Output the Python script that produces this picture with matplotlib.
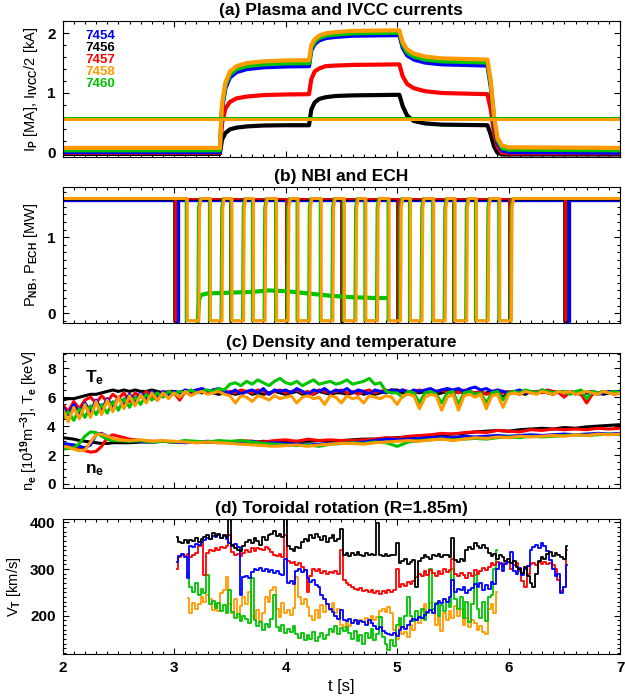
import numpy as np
import matplotlib
matplotlib.use("Agg")
import matplotlib.pyplot as plt
from matplotlib.ticker import MultipleLocator

plt.rcParams['font.family'] = ['Liberation Sans', 'DejaVu Sans']
plt.rcParams['font.weight'] = 'bold'
plt.rcParams['mathtext.fontset'] = 'custom'
plt.rcParams['mathtext.rm'] = 'Liberation Sans:bold'
plt.rcParams['mathtext.it'] = 'Liberation Sans:bold'
plt.rcParams['mathtext.bf'] = 'Liberation Sans:bold'

shots = ['7454', '7456', '7457', '7458', '7460']
colors = {'7454': '#0000ff', '7456': '#000000', '7457': '#ff0000',
          '7458': '#ff9a00', '7460': '#00c400'}

# ---- (a) plasma current breakpoints [MA]
ip_t = [2.0, 3.41, 3.43, 3.46, 3.5, 3.56, 3.65, 3.8, 4.0, 4.21, 4.23, 4.26, 4.3, 4.36,
        4.45, 4.6, 5.02, 5.05, 5.09, 5.15, 5.25, 5.4, 5.81, 5.84, 5.87, 5.9, 5.94, 6.0, 7.0]
ip = {
    '7458': [0.08, 0.08, 0.82, 1.18, 1.36, 1.45, 1.50, 1.53, 1.545, 1.55, 1.80, 1.90, 1.96, 2.0,
             2.02, 2.04, 2.05, 1.85, 1.73, 1.66, 1.61, 1.58, 1.56, 1.2, 0.6, 0.25, 0.12, 0.09, 0.08],
    '7460': [0.04, 0.04, 0.77, 1.13, 1.31, 1.40, 1.45, 1.48, 1.495, 1.50, 1.75, 1.86, 1.92, 1.96,
             1.98, 2.0, 2.01, 1.81, 1.68, 1.61, 1.56, 1.53, 1.51, 1.15, 0.56, 0.21, 0.08, 0.05, 0.04],
    '7454': [0.01, 0.01, 0.73, 1.08, 1.26, 1.35, 1.40, 1.43, 1.445, 1.45, 1.71, 1.82, 1.88, 1.92,
             1.94, 1.96, 1.97, 1.76, 1.63, 1.56, 1.51, 1.48, 1.46, 1.10, 0.52, 0.17, 0.04, 0.01, 0.0],
    '7457': [0.0, 0.0, 0.49, 0.74, 0.85, 0.91, 0.94, 0.965, 0.975, 0.98, 1.23, 1.36, 1.41, 1.45,
             1.46, 1.47, 1.48, 1.28, 1.15, 1.08, 1.03, 1.0, 0.98, 0.72, 0.32, 0.1, 0.0, -0.01, -0.01],
    '7456': [-0.02, -0.02, 0.22, 0.33, 0.39, 0.42, 0.44, 0.455, 0.46, 0.46, 0.72, 0.84, 0.9, 0.93,
             0.95, 0.96, 0.97, 0.78, 0.62, 0.53, 0.49, 0.47, 0.46, 0.3, 0.1, 0.0, -0.03, -0.03, -0.03],
}
ivcc_half = {'7456': 0.56, '7457': 0.56, '7454': 0.578, '7460': 0.574, '7458': 0.56}

# ---- (b) NBI / ECH
nbi_off_start = [3.118, 3.326, 3.519, 3.712, 3.919, 4.112, 4.32, 4.527, 4.72, 4.928,
                 5.12, 5.328, 5.52, 5.712, 5.921]
nbi_off_end = [3.222, 3.43, 3.623, 3.816, 4.023, 4.216, 4.424, 4.631, 4.824, 5.031,
               5.224, 5.431, 5.624, 5.817, 6.025]
nbi_blip = [3.0, 3.5, 4.0, 4.5, 5.0, 5.5, 6.0, 6.5]
blue_dips = [3.015, 6.505]
blue_dip_w = [0.02, 0.035]
nbi_on = 1.51
nbi_low = -0.1
ech_t = [3.212, 3.225, 3.24, 3.3, 3.5, 3.7, 3.85, 4.0, 4.2, 4.4, 4.6, 4.8, 4.905]
ech_v = [-0.1, 0.18, 0.24, 0.26, 0.27, 0.28, 0.30, 0.29, 0.26, 0.23, 0.21, 0.20, 0.20]

# ---- (c) Te [keV], dt = 0.05 s
te_t = np.linspace(2.0, 7.0, 101)
te = {
    '7456': [5.8, 5.9, 5.9, 6.0, 6.1, 6.2, 6.2, 6.3, 6.4, 6.5,
             6.4, 6.5, 6.4, 6.5, 6.4, 6.4, 6.5, 6.4, 6.3, 6.4,
             6.4, 6.3, 6.4, 6.3, 6.4, 6.3, 6.4, 6.3, 6.2, 6.3,
             6.3, 6.2, 6.3, 6.4, 6.2, 6.3, 6.2, 6.3, 6.4, 6.3,
             6.2, 6.3, 6.4, 6.2, 6.3, 6.2, 6.4, 6.3, 6.2, 6.3,
             6.3, 6.2, 6.3, 6.4, 6.2, 6.3, 6.2, 6.3, 6.4, 6.5,
             6.5, 6.3, 6.2, 6.4, 6.3, 6.4, 6.3, 6.2, 6.3, 6.4,
             6.3, 6.4, 6.3, 6.2, 6.3, 6.2, 6.3, 6.4, 6.3, 6.0,
             6.3, 6.4, 6.3, 6.2, 6.4, 6.3, 6.4, 6.3, 6.2, 6.4,
             6.3, 6.4, 6.3, 6.2, 6.3, 6.4, 6.3, 6.2, 6.3, 6.4, 6.3],
    '7457': [5.5, 5.0, 5.7, 5.2, 5.8, 6.0, 5.6, 6.1, 5.7, 6.2,
             5.9, 6.3, 5.7, 6.3, 6.0, 6.4, 6.1, 5.8, 6.3, 6.4,
             6.3, 5.8, 6.4, 6.3, 6.5, 6.4, 6.3, 6.5, 6.4, 6.3,
             6.4, 6.3, 6.5, 6.4, 6.3, 6.5, 6.4, 6.2, 6.4, 6.5,
             6.3, 6.4, 6.5, 6.3, 6.4, 6.2, 6.5, 6.4, 6.3, 6.4,
             6.5, 6.3, 6.4, 6.2, 6.4, 6.5, 6.3, 6.4, 6.5, 6.3,
             6.4, 6.5, 6.4, 6.3, 6.5, 6.4, 6.3, 6.4, 6.5, 6.3,
             6.4, 6.3, 6.5, 6.4, 6.3, 6.4, 6.2, 6.3, 6.4, 6.3,
             6.4, 6.3, 6.2, 6.4, 6.3, 6.4, 6.3, 6.5, 6.4, 6.3,
             6.0, 6.4, 6.3, 6.2, 5.6, 6.2, 6.3, 6.4, 6.3, 6.2, 6.3],
    '7454': [5.3, 4.8, 5.5, 4.9, 5.6, 5.0, 5.8, 5.1, 5.9, 5.3,
             6.0, 5.5, 6.2, 5.7, 6.3, 5.9, 6.4, 6.0, 6.4, 6.2,
             6.4, 6.3, 6.5, 6.4, 6.5, 6.6, 6.4, 6.5, 6.6, 6.4,
             6.3, 6.5, 6.2, 6.4, 6.5, 6.3, 6.6, 6.2, 6.5, 6.4,
             6.5, 6.3, 6.6, 6.4, 6.2, 6.5, 6.4, 6.6, 6.3, 6.5,
             6.4, 6.6, 6.3, 6.5, 6.4, 6.2, 6.5, 6.4, 6.3, 6.5,
             6.4, 6.5, 6.3, 6.5, 6.4, 6.5, 6.6, 6.4, 6.5, 6.6,
             6.5, 6.6, 6.4, 6.6, 6.7, 6.5, 6.6, 6.4, 6.5, 6.4,
             6.3, 6.4, 6.5, 6.3, 6.4, 6.3, 6.5, 6.4, 6.3, 6.4,
             6.3, 6.4, 6.2, 6.4, 6.3, 6.4, 6.2, 6.3, 6.4, 6.3, 6.4],
    '7460': [4.5, 5.0, 4.4, 5.2, 4.6, 5.4, 4.8, 5.5, 4.9, 5.7,
             5.1, 5.9, 5.3, 6.0, 5.5, 6.2, 5.8, 6.3, 6.0, 6.4,
             6.2, 6.4, 6.3, 6.5, 6.3, 6.4, 6.5, 6.4, 6.6, 6.5,
             6.9, 7.0, 6.8, 7.1, 6.9, 7.2, 7.0, 6.8, 7.1, 7.3,
             7.0, 6.9, 7.1, 6.8, 7.0, 7.2, 6.9, 7.0, 7.1, 6.9,
             7.0, 7.2, 6.9, 7.0, 7.1, 7.3, 6.9, 7.0, 6.4, 6.3,
             6.3, 6.0, 6.4, 6.3, 5.6, 6.3, 6.4, 6.2, 5.6, 6.3,
             6.4, 5.5, 6.3, 6.4, 6.2, 6.3, 5.6, 6.3, 6.4, 5.8,
             6.3, 6.4, 6.3, 6.5, 6.4, 6.3, 6.5, 6.4, 6.3, 6.4,
             6.4, 6.2, 6.4, 6.5, 5.9, 6.4, 6.3, 6.4, 6.3, 6.4, 6.3],
    '7458': [5.2, 4.3, 5.3, 4.5, 5.5, 4.6, 5.7, 4.8, 5.8, 5.0,
             6.0, 5.2, 6.1, 5.4, 6.2, 5.6, 6.3, 5.8, 6.3, 5.9,
             6.3, 6.0, 6.4, 6.1, 6.3, 6.4, 6.2, 6.3, 6.4, 6.2,
             6.1, 5.6, 6.1, 6.0, 5.7, 6.1, 6.0, 5.8, 6.1, 5.9,
             6.0, 6.1, 5.6, 6.0, 6.1, 5.9, 6.0, 5.5, 6.1, 6.0,
             5.6, 6.1, 5.9, 6.0, 5.6, 6.1, 6.0, 5.9, 6.1, 6.0,
             5.5, 6.1, 6.2, 6.1, 5.2, 6.0, 6.2, 6.1, 5.1, 6.0,
             6.2, 5.1, 6.1, 6.2, 6.0, 6.2, 5.2, 6.1, 6.2, 5.3,
             6.2, 6.3, 6.2, 6.4, 6.3, 6.2, 6.4, 6.3, 6.2, 6.4,
             6.3, 6.4, 6.2, 6.3, 6.4, 6.3, 6.2, 6.4, 6.3, 6.2, 6.3],
}

# ---- (c) ne [1e19 m^-3]
ne_t = np.r_[np.linspace(2.0, 2.5, 11), np.linspace(2.6, 7.0, 45)]
ne = {
    '7456': [3.2, 3.15, 3.1, 3.0, 2.95, 2.9, 2.85, 2.8, 2.8, 2.85, 2.85,
             2.85, 2.9, 2.9, 2.95, 2.9, 2.95, 2.9, 2.9, 2.85, 2.9,
             2.9, 2.85, 2.95, 2.9, 2.9, 2.95, 2.95, 3.0, 2.95, 3.0,
             3.05, 3.1, 3.1, 3.15, 3.2, 3.25, 3.3, 3.35, 3.4, 3.45,
             3.5, 3.6, 3.65, 3.7, 3.65, 3.75, 3.8, 3.85, 3.8, 3.9,
             3.85, 3.95, 4.0, 4.05, 4.1],
    '7457': [2.7, 2.65, 2.6, 2.5, 2.3, 2.2, 2.25, 2.6, 3.2, 3.4, 3.3,
             3.1, 3.0, 2.95, 2.95, 2.9, 2.95, 2.85, 2.9, 2.95, 2.9,
             3.0, 2.95, 2.9, 3.0, 3.05, 2.95, 3.1, 3.0, 3.05, 3.0,
             3.0, 3.05, 3.1, 3.2, 3.15, 3.3, 3.35, 3.4, 3.5, 3.45,
             3.55, 3.6, 3.55, 3.7, 3.65, 3.6, 3.75, 3.7, 3.8, 3.75,
             3.8, 3.75, 3.85, 3.8, 3.85],
    '7454': [2.8, 2.75, 2.7, 2.6, 2.5, 2.7, 3.4, 3.5, 3.3, 3.1, 3.0,
             3.0, 2.95, 2.9, 2.95, 2.9, 2.85, 2.9, 2.95, 2.9, 2.85,
             2.9, 2.95, 2.8, 2.85, 2.8, 2.75, 2.7, 2.75, 2.8, 2.8,
             2.85, 2.9, 3.0, 3.1, 3.05, 3.1, 3.15, 3.2, 3.25, 3.2,
             3.3, 3.25, 3.3, 3.35, 3.3, 3.35, 3.4, 3.35, 3.4, 3.45,
             3.4, 3.45, 3.5, 3.45, 3.5],
    '7460': [2.4, 2.45, 2.5, 2.8, 3.3, 3.6, 3.55, 3.3, 3.1, 3.0, 3.0,
             2.95, 3.0, 2.9, 2.95, 2.9, 3.0, 2.95, 2.9, 3.0, 2.95,
             3.0, 2.9, 2.8, 2.75, 2.7, 2.65, 2.7, 2.6, 2.75, 2.8,
             2.85, 2.8, 2.9, 2.85, 2.6, 2.9, 3.0, 3.05, 3.1, 3.05,
             3.1, 3.15, 3.1, 3.2, 3.25, 3.2, 3.3, 3.25, 3.3, 3.35,
             3.4, 3.35, 3.4, 3.45, 3.4],
    '7458': [2.6, 2.55, 2.4, 2.3, 2.35, 2.9, 3.4, 3.45, 3.3, 3.15, 3.05,
             3.0, 3.05, 2.95, 3.0, 2.95, 2.9, 2.85, 2.9, 2.85, 2.8,
             2.75, 2.7, 2.65, 2.6, 2.65, 2.7, 2.6, 2.7, 2.75, 2.8,
             2.8, 2.75, 2.85, 2.9, 2.95, 3.0, 2.95, 3.05, 3.1, 3.0,
             3.1, 3.2, 3.15, 3.25, 3.2, 3.3, 3.25, 3.3, 3.35, 3.3,
             3.4, 3.35, 3.45, 3.4, 3.45],
}

# ---- (d) toroidal rotation [km/s], dt = 0.025 s
vt_t_long = np.linspace(3.025, 6.525, 141)
vt_t_short = np.linspace(3.125, 5.9, 112)
vt = {
    '7456': [368, 358, 355, 362,
             356, 363, 360, 366, 358, 364,
             368, 372, 365, 378, 370, 374, 366, 372, 369,
             420,
             352, 345, 340, 338, 350,
             358, 362, 355, 366, 360, 352, 368, 362, 372,
             375, 382, 370, 376, 368,
             420,
             350, 342, 338, 348, 345,
             358, 365, 360, 372, 366, 375, 368,
             362, 370, 358, 366, 372, 360, 364,
             385,
             330, 335, 328, 334, 330,
             336, 330, 327, 334, 329, 333, 330,
             398,
             330, 327, 333, 328, 331, 329,
             356,
             312, 318, 322, 310, 316, 320,
             262,
             318, 324, 330, 326, 322, 330, 327, 333, 326, 329, 331, 325,
             366,
             320, 316, 322, 318,
             340, 348, 342, 355, 350, 345, 352, 346,
             335, 328, 333, 322, 330, 326, 318,
             322, 312, 318, 305,
             300, 292, 304, 285, 270, 262, 290,
             318, 326, 322, 332, 336, 328, 334, 330, 325, 322,
             350],
    '7457': [300,
             326, 330, 328, 333, 326, 331, 334,
             350, 358,
             288,
             334, 340, 338, 344, 341, 348, 345, 350,
             372,
             336, 330, 333, 328, 335,
             340, 336, 344, 338, 346, 342, 340, 347, 343,
             336, 330, 327, 333, 325,
             372,
             318, 312, 316, 309, 312,
             304, 298, 250,
             285, 300, 296, 299,
             292, 296, 289, 294, 291, 295, 290,
             340,
             276, 270, 266, 262, 258,
             255, 260, 252, 256, 250, 254, 248,
             252, 246, 253, 249, 255, 250, 254,
             300,
             262, 268, 264, 272, 268, 275,
             282, 290, 286, 295, 288, 298, 292, 286, 296, 290, 299, 293, 297,
             322,
             290, 284, 292, 288,
             280, 292, 286, 298, 290, 295, 302, 298,
             305, 312, 308, 314, 310, 306, 312,
             315, 300, 308, 312,
             296, 275, 262, 290, 310, 312, 308,
             314, 310, 316, 311, 313, 309, 300, 276, 252, 262,
             340],
    '7454': [316,
             328, 332, 326,
             280,
             350, 348, 354, 352,
             358,
             362, 366, 364, 370, 368, 372, 366, 370,
             364, 356, 350, 354, 348,
             244,
             282, 286, 280,
             294, 300, 298, 303, 296, 301, 294, 298, 292, 296, 290,
             287,
             322,
             270, 274, 268,
             296, 300, 294, 298,
             280, 272, 276, 266, 262,
             244, 236, 225, 215, 208,
             200, 194, 212, 190,
             188, 192, 185, 190, 183, 188, 186, 181, 190, 184,
             178, 172, 175, 168, 164, 160,
             158, 162, 156,
             170, 176, 172, 180,
             188, 194, 190, 198, 196,
             202, 208, 212, 206,
             225, 232, 228, 236, 230, 240,
             276,
             250, 258, 254, 262, 248, 256,
             260, 268, 262, 270, 256, 266, 258, 272, 268,
             300, 312, 296, 310, 316,
             336,
             296, 290, 302, 288, 300, 306,
             340, 348, 352, 345, 355, 350, 338,
             320, 300, 285, 290,
             248, 262,
             308],
    '7460': [287,
             262, 250, 270, 244, 258, 248,
             287,
             225, 232, 216, 228, 210, 222, 205,
             255,
             208, 196, 204, 188, 200, 192, 184,
             280,
             190, 178, 186, 170, 182, 175, 194,
             244,
             176, 168, 180, 162, 172, 165, 178,
             160, 152, 164, 148, 158, 150, 166, 146, 155, 162, 150, 158,
             172, 165, 178, 160, 174, 168, 176,
             162, 150, 168, 145, 158, 140, 164, 152, 172, 148, 160, 198, 155,
             140, 126, 148, 135,
             180, 195, 175, 200,
             241,
             200, 188, 210, 195, 214, 190, 205,
             301,
             215, 228, 200, 222, 210, 230, 218,
             301,
             236, 215, 240, 195, 230, 186, 225,
             287,
             215, 195, 230, 188, 240, 245,
             300,
             340],
    '7458': [237,
             205, 228, 215, 226,
             240, 230, 244, 235,
             212, 225, 210,
             248, 255,
             283,
             225, 205, 236, 198, 220,
             240, 225, 250,
             200, 192, 212, 188, 205,
             240, 230, 255,
             262,
             215, 198, 228, 205,
             212, 202, 216,
             283,
             240, 225, 236, 218,
             200, 190, 212, 196,
             222, 208, 226, 212, 228, 205, 215,
             180, 175, 186, 178, 185,
             188, 184, 190, 186,
             195, 185, 200, 190, 198,
             210, 215, 208, 218, 205,
             170, 150, 180,
             160, 165, 155,
             180, 170, 192, 185,
             210, 225, 205, 228, 215,
             180, 200, 168, 205, 190,
             210, 195, 220, 200, 215,
             180, 195, 175, 190,
             185, 170, 178, 165, 160,
             215, 225, 205,
             251],
}


def modulated(off_start, off_end, shift):
    t = [2.0]
    v = [nbi_on]
    for a, b in zip(off_start, off_end):
        t += [a + shift, a + shift, b + shift, b + shift + 0.006, b + shift + 0.02]
        v += [nbi_on, nbi_low, nbi_low, nbi_on - 0.12, nbi_on]
    t.append(7.0)
    v.append(nbi_on)
    return t, v


def blips(times, widths, level):
    t = [2.0]
    v = [level]
    for a, w in zip(times, widths):
        t += [a, a, a + w, a + w]
        v += [level, nbi_low, nbi_low, level]
    t.append(7.0)
    v.append(level)
    return t, v


def style_axis(ax, ymin, ymax, ymaj, ymin_step, show_x=False):
    ax.set_xlim(2, 7)
    ax.set_ylim(ymin, ymax)
    ax.xaxis.set_major_locator(MultipleLocator(1))
    ax.xaxis.set_minor_locator(MultipleLocator(0.1))
    ax.yaxis.set_major_locator(MultipleLocator(ymaj))
    ax.yaxis.set_minor_locator(MultipleLocator(ymin_step))
    ax.tick_params(which='both', direction='in', top=True, right=True, width=0.8,
                   labelsize=11, pad=5)
    ax.tick_params(which='major', length=4.5)
    ax.tick_params(which='minor', length=2.2)
    if not show_x:
        ax.set_xticklabels([])
    for s in ax.spines.values():
        s.set_linewidth(0.8)


fig = plt.figure(figsize=(6.25, 6.98), dpi=100)
ax_w = 0.892
ax_a = fig.add_axes([0.1002, 0.7751, ax_w, 0.1948])
ax_b = fig.add_axes([0.1002, 0.5377, ax_w, 0.1948])
ax_c = fig.add_axes([0.1002, 0.3009, ax_w, 0.1934])
ax_d = fig.add_axes([0.1002, 0.0630, ax_w, 0.1934])

title_kw = dict(fontsize=12.5, fontweight='bold', pad=4)

# (a)
for s in ['7456', '7457', '7454', '7460', '7458']:
    ax_a.plot(ip_t, ip[s], color=colors[s], lw=3.0, solid_joinstyle='round')
for s in ['7456', '7457', '7454', '7460']:
    ax_a.plot([2, 7], [ivcc_half[s]] * 2, color=colors[s], lw=1.4)
ax_a.plot([2, 7], [ivcc_half['7458']] * 2, color=colors['7458'], lw=2.2)
style_axis(ax_a, -0.072, 2.206, 1, 0.2)
ax_a.set_title('(a) Plasma and IVCC currents', **title_kw)
ax_a.set_ylabel(r'I$_\mathrm{P}$ [MA], I$_\mathrm{IVCC}$/2 [kA]', fontsize=10.5, labelpad=5)
for i, s in enumerate(shots):
    ax_a.text(2.2, 1.955 - 0.2 * i, s, color=colors[s], fontsize=9.5,
              fontweight='bold', va='center', ha='left')

# (b)
t, v = blips(blue_dips, blue_dip_w, 1.49)
ax_b.plot(t, v, color=colors['7454'], lw=2.4)
t, v = blips(nbi_blip, [0.012] * len(nbi_blip), 1.5)
ax_b.plot(t, v, color=colors['7456'], lw=1.8)
t, v = blips([x + 0.005 for x in nbi_blip], [0.01] * len(nbi_blip), 1.5)
ax_b.plot(t, v, color=colors['7457'], lw=1.2)
t, v = modulated(nbi_off_start, nbi_off_end, -0.012)
ax_b.plot(t, v, color=colors['7460'], lw=1.8)
ax_b.plot(ech_t, ech_v, color=colors['7460'], lw=3.0)
t, v = modulated(nbi_off_start, nbi_off_end, 0.0)
ax_b.plot(t, v, color=colors['7458'], lw=2.2)
style_axis(ax_b, -0.125, 1.665, 1, 0.1)
ax_b.set_title('(b) NBI and ECH', **title_kw)
ax_b.set_ylabel(r'P$_\mathrm{NB}$, P$_\mathrm{ECH}$ [MW]', fontsize=10.5, labelpad=5)

# (c)
for s in ['7456', '7457', '7454', '7460', '7458']:
    ax_c.plot(te_t, te[s], color=colors[s], lw=2.2)
    ax_c.plot(ne_t, ne[s], color=colors[s], lw=2.2)
style_axis(ax_c, -0.28, 9.06, 2, 0.5)
ax_c.set_title('(c) Density and temperature', **title_kw)
ax_c.set_ylabel(r'n$_\mathrm{e}$ [10$^\mathrm{19}$m$^\mathrm{-3}$], T$_\mathrm{e}$ [keV]',
                fontsize=10.5, labelpad=5)
ax_c.text(2.2, 7.05, r'T$_\mathrm{e}$', fontsize=12.5, fontweight='bold', va='baseline')
ax_c.text(2.2, 0.76, r'n$_\mathrm{e}$', fontsize=12.5, fontweight='bold', va='baseline')

# (d)
for s in ['7458', '7460', '7457', '7454', '7456']:
    tt = vt_t_long if len(vt[s]) == len(vt_t_long) else vt_t_short
    ax_d.plot(tt, vt[s], color=colors[s], lw=1.3, drawstyle='steps-mid')
style_axis(ax_d, 118, 407, 100, 10, show_x=True)
ax_d.set_title('(d) Toroidal rotation (R=1.85m)', **title_kw)
ax_d.set_ylabel(r'V$_\mathrm{T}$ [km/s]', fontsize=10.5, labelpad=5)
ax_d.set_xlabel('t [s]', fontsize=12, labelpad=3)

fig.savefig('out.png', dpi=100)
